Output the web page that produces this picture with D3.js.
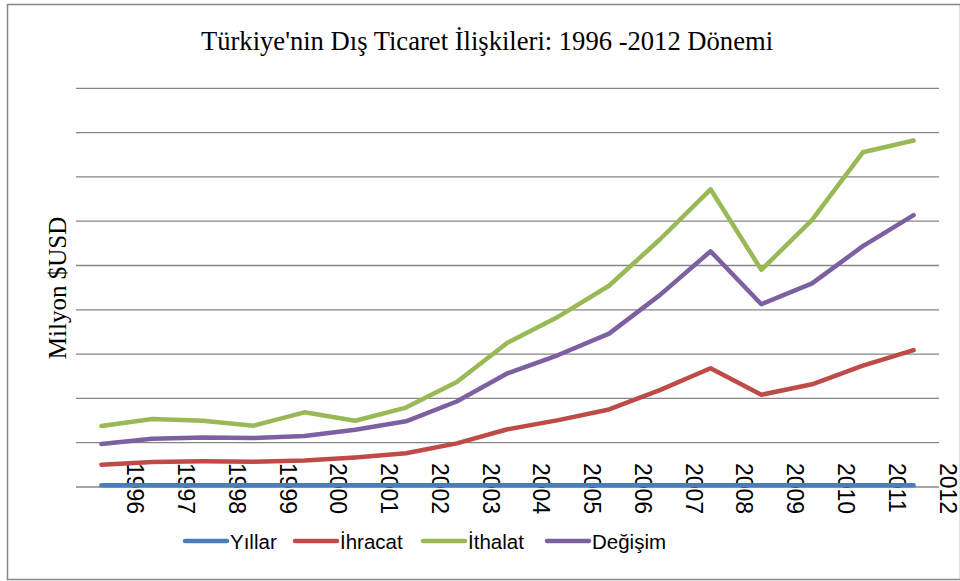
<!DOCTYPE html>
<html>
<head>
<meta charset="utf-8">
<script src="https://cdn.jsdelivr.net/npm/d3@7/dist/d3.min.js"></script>
<style>
  body { margin: 0; background: #fff; }
</style>
</head>
<body>
<div id="chart"></div>
<script>
// Data (milyon $), years 1996-2012
const years = [1996, 1997, 1998, 1999, 2000, 2001, 2002, 2003, 2004, 2005, 2006, 2007, 2008, 2009, 2010, 2011, 2012];
const ihracat = [23224, 26261, 26974, 26587, 27775, 31334, 36059, 47253, 63167, 73476, 85535, 107272, 132027, 102143, 113883, 134907, 152462];
const ithalat = [43627, 48559, 45921, 40671, 54503, 41399, 51554, 69340, 97540, 116774, 139576, 170063, 201964, 140928, 185544, 240842, 236545];
const degisim = [-20402, -22298, -18947, -14084, -26728, -10065, -15495, -22087, -34373, -43298, -54041, -62791, -69936, -38786, -71661, -105935, -84083];

const seriesNames = ["Yıllar", "İhracat", "İthalat", "Değişim"];
const colors = ["#4a7ebb", "#be4b48", "#98b954", "#7d60a0"];

const width = 960, height = 581;

const svg = d3.select("#chart").append("svg")
    .attr("width", width)
    .attr("height", height);

// chart frame
svg.append("rect")
    .attr("x", 7.5).attr("y", 4.5)
    .attr("width", 953).attr("height", 575)
    .attr("fill", "#fff")
    .attr("stroke", "#868686")
    .attr("stroke-width", 1.5);

// stacked line chart, like the Excel original
const rows = years.map((y, i) => ({
    "Yıllar": y, "İhracat": ihracat[i], "İthalat": ithalat[i], "Değişim": degisim[i]
}));
const stacked = d3.stack().keys(seriesNames).offset(d3.stackOffsetNone)(rows);

const x = d3.scaleBand().domain(years).range([76, 939]);
const y = d3.scaleLinear().domain([0, 450000]).range([487, 88.3]);

// gridlines
svg.append("g")
    .selectAll("line")
    .data(y.ticks(9))
    .join("line")
    .attr("x1", 76).attr("x2", 939)
    .attr("y1", d => y(d)).attr("y2", d => y(d))
    .attr("stroke", "#868686")
    .attr("stroke-width", 1.3);

// x tick labels, rotated
svg.append("g")
    .selectAll("text")
    .data(years)
    .join("text")
    .attr("transform", d => `translate(${x(d) + x.bandwidth() + 8.5},463) rotate(90)`)
    .attr("dominant-baseline", "central")
    .attr("font-family", "Liberation Sans, Arial, sans-serif")
    .attr("font-size", 23)
    .attr("fill", "#000")
    .text(d => d);

// lines
const line = d3.line()
    .x((d, i) => x(years[i]) + x.bandwidth() / 2)
    .y(d => y(d[1]));

svg.append("g")
    .selectAll("path")
    .data(stacked)
    .join("path")
    .attr("d", d => line(d))
    .attr("fill", "none")
    .attr("stroke", (d, i) => colors[i])
    .attr("stroke-width", 4.5)
    .attr("stroke-linejoin", "round")
    .attr("stroke-linecap", "round");

// title
svg.append("text")
    .attr("x", 487).attr("y", 50)
    .attr("text-anchor", "middle")
    .attr("font-family", "Liberation Serif, Times New Roman, serif")
    .attr("font-size", 26.6)
    .text("Türkiye'nin Dış Ticaret İlişkileri: 1996 -2012 Dönemi");

// y axis title
svg.append("text")
    .attr("transform", "translate(57,288) rotate(-90)")
    .attr("text-anchor", "middle")
    .attr("dominant-baseline", "central")
    .attr("font-family", "Liberation Serif, Times New Roman, serif")
    .attr("font-size", 25)
    .text("Milyon $USD");

// legend
const legendX = [185, 295, 423, 547];
const legend = svg.append("g")
    .selectAll("g")
    .data(seriesNames)
    .join("g")
    .attr("transform", (d, i) => `translate(${legendX[i]},541)`);

legend.append("line")
    .attr("x1", 0).attr("x2", 42)
    .attr("stroke", (d, i) => colors[i])
    .attr("stroke-width", 4.5)
    .attr("stroke-linecap", "round");

legend.append("text")
    .attr("x", 45)
    .attr("dominant-baseline", "central")
    .attr("font-family", "Liberation Sans, Arial, sans-serif")
    .attr("font-size", 20.5)
    .text(d => d);
</script>
</body>
</html>
